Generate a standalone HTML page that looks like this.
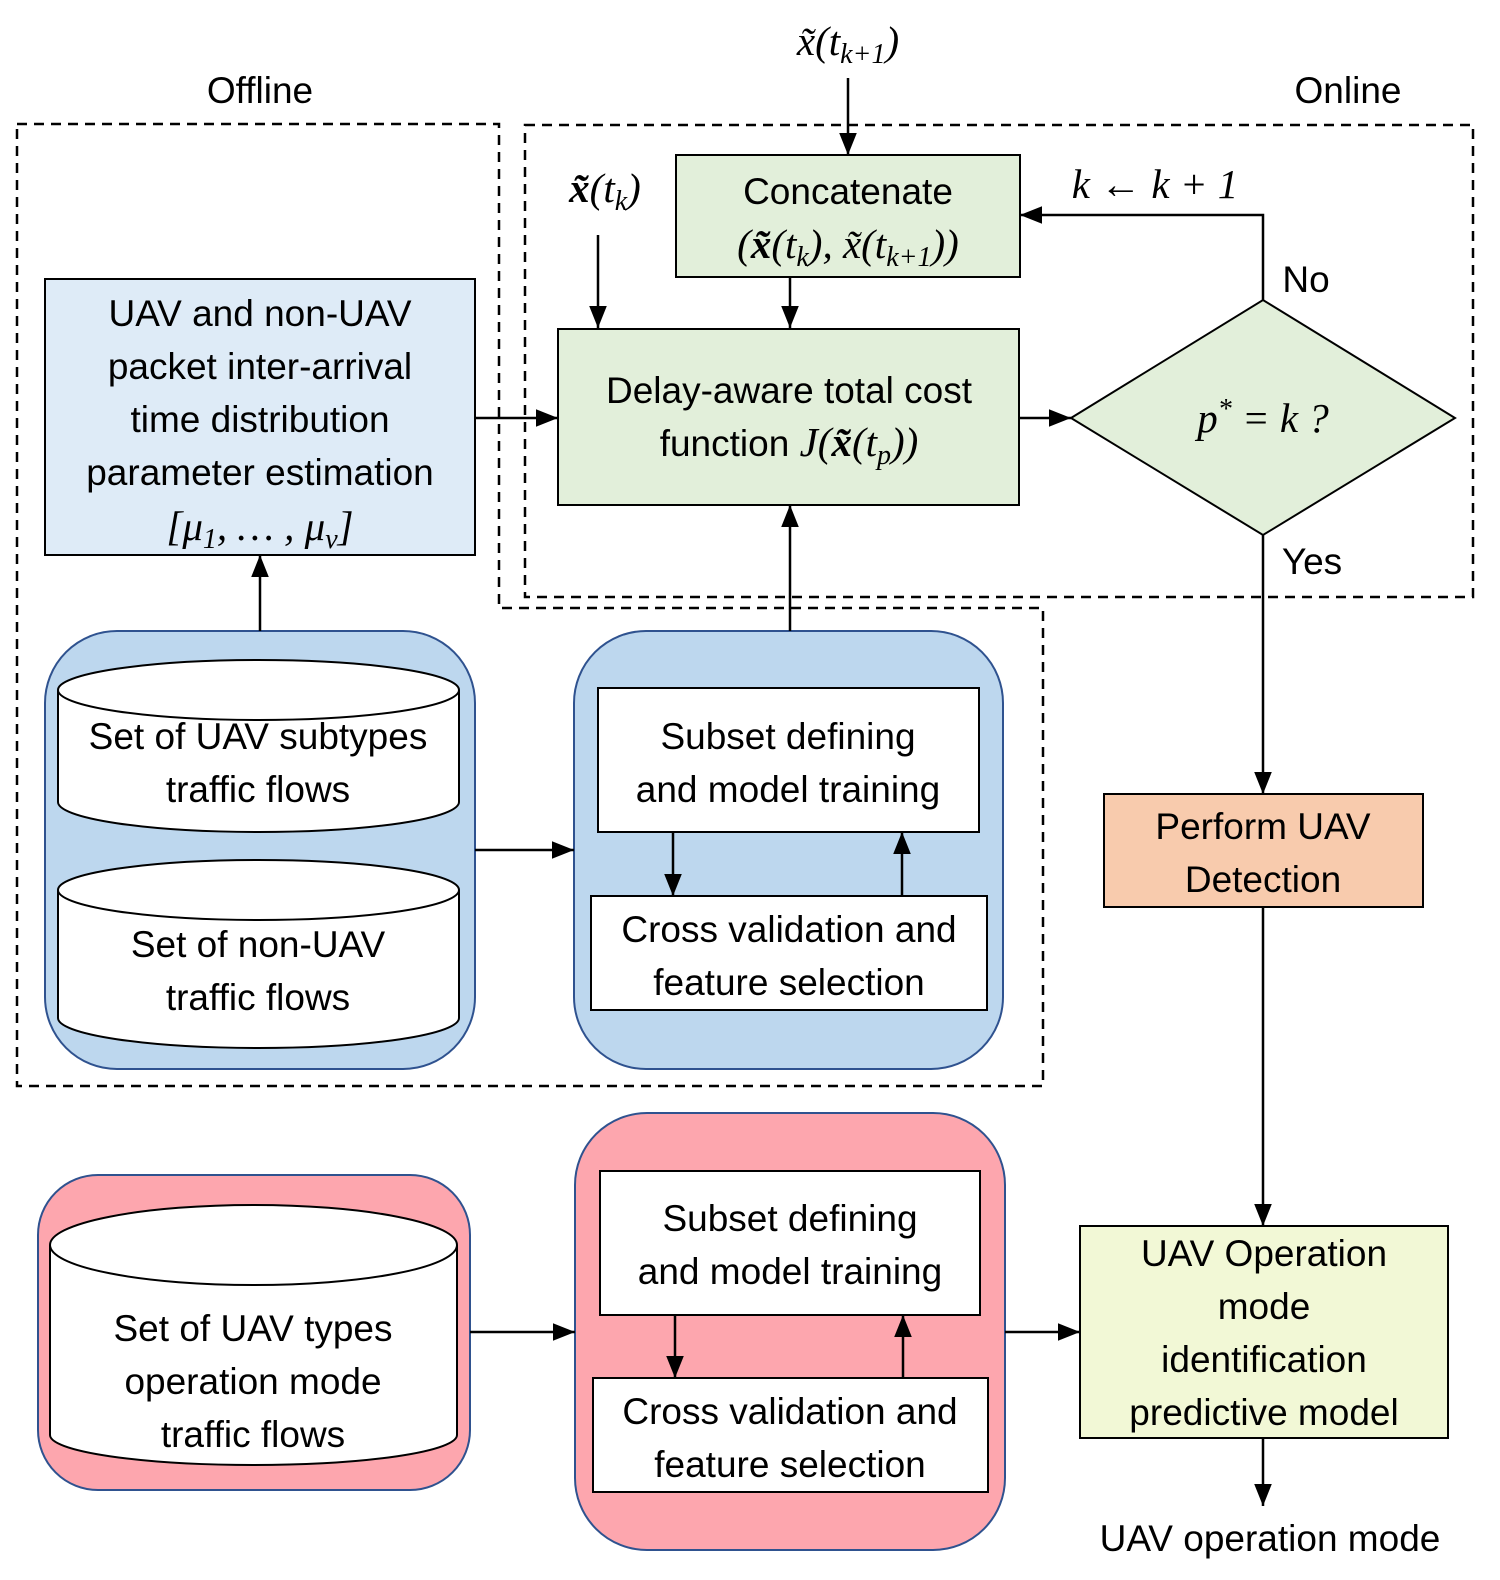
<!DOCTYPE html>
<html><head><meta charset="utf-8"><style>
html,body{margin:0;padding:0;background:#fff;overflow:hidden;width:1500px;height:1580px}
svg{display:block}
text{font-family:"Liberation Sans",sans-serif;font-size:37px;fill:#000;text-anchor:middle}
.m{font-family:"Liberation Serif",serif;font-style:italic;font-size:41px}
.s{font-size:28px}
</style></head><body>
<svg width="1500" height="1580" viewBox="0 0 1500 1580" xmlns="http://www.w3.org/2000/svg">
<defs><marker id="b" viewBox="0 0 10 10" refX="10" refY="5" markerWidth="22" markerHeight="22" markerUnits="userSpaceOnUse" orient="auto"><path d="M0,1L10,5L0,9z" fill="#000"/></marker></defs>

<path d="M17,124H499V608H1043V1086H17Z" fill="none" stroke="#000" stroke-width="2.5" stroke-dasharray="10,7"/>
<rect x="525" y="125" width="948" height="472" fill="none" stroke="#000" stroke-width="2.5" stroke-dasharray="10,7"/>
<text x="260" y="103">Offline</text>
<text x="1348" y="103">Online</text>

<rect x="676" y="155" width="344" height="122" fill="#e2efda" stroke="#000" stroke-width="2"/>
<text x="848" y="204">Concatenate</text>
<text x="848" y="258" class="m">(<tspan font-weight="bold">x&#771;</tspan>(t<tspan class="s" dy="8">k</tspan><tspan dy="-8">), x&#771;(t</tspan><tspan class="s" dy="8">k+1</tspan><tspan dy="-8">))</tspan></text>
<text x="848" y="55" class="m">x&#771;(t<tspan class="s" dy="8">k+1</tspan><tspan dy="-8">)</tspan></text>
<text x="605" y="202" class="m"><tspan font-weight="bold">x&#771;</tspan>(t<tspan class="s" dy="8">k</tspan><tspan dy="-8">)</tspan></text>
<text x="1155" y="198" class="m">k ← k + 1</text>

<rect x="558" y="329" width="461" height="176" fill="#e2efda" stroke="#000" stroke-width="2"/>
<text x="789" y="403">Delay-aware total cost</text>
<text x="789" y="456">function <tspan class="m">J(<tspan font-weight="bold">x&#771;</tspan>(t<tspan class="s" dy="8">p</tspan><tspan dy="-8">))</tspan></tspan></text>

<polygon points="1071,418 1263,300 1455,418 1263,535" fill="#e2efda" stroke="#000" stroke-width="2"/>
<text x="1263" y="432" class="m">p<tspan class="s" dy="-14">*</tspan><tspan dy="14"> = k ?</tspan></text>
<text x="1306" y="292">No</text>
<text x="1312" y="574">Yes</text>

<rect x="45" y="279" width="430" height="276" fill="#deebf7" stroke="#000" stroke-width="2"/>
<text x="260" y="326">UAV and non-UAV</text>
<text x="260" y="379">packet inter-arrival</text>
<text x="260" y="432">time distribution</text>
<text x="260" y="485">parameter estimation</text>
<text x="260" y="540" class="m">[μ<tspan class="s" dy="8">1</tspan><tspan dy="-8">, … , μ</tspan><tspan class="s" dy="8">v</tspan><tspan dy="-8">]</tspan></text>

<rect x="45" y="631" width="430" height="438" rx="72" fill="#bdd7ee" stroke="#2f528f" stroke-width="2"/>
<path d="M58,690V802A200.5,30 0 0 0 459,802V690" fill="#fff" stroke="#000" stroke-width="2"/>
<ellipse cx="258.5" cy="690" rx="200.5" ry="30" fill="#fff" stroke="#000" stroke-width="2"/>
<text x="258" y="749">Set of UAV subtypes</text>
<text x="258" y="802">traffic flows</text>
<path d="M58,890V1018A200.5,30 0 0 0 459,1018V890" fill="#fff" stroke="#000" stroke-width="2"/>
<ellipse cx="258.5" cy="890" rx="200.5" ry="30" fill="#fff" stroke="#000" stroke-width="2"/>
<text x="258" y="957">Set of non-UAV</text>
<text x="258" y="1010">traffic flows</text>

<rect x="574" y="631" width="429" height="438" rx="72" fill="#bdd7ee" stroke="#2f528f" stroke-width="2"/>
<rect x="598" y="688" width="381" height="144" fill="#fff" stroke="#000" stroke-width="2"/>
<text x="788" y="749">Subset defining</text>
<text x="788" y="802">and model training</text>
<rect x="591" y="896" width="396" height="114" fill="#fff" stroke="#000" stroke-width="2"/>
<text x="789" y="942">Cross validation and</text>
<text x="789" y="995">feature selection</text>

<rect x="1104" y="794" width="319" height="113" fill="#f8cbad" stroke="#000" stroke-width="2"/>
<text x="1263" y="839">Perform UAV</text>
<text x="1263" y="892">Detection</text>

<rect x="38" y="1175" width="432" height="315" rx="60" fill="#fda6ae" stroke="#2f528f" stroke-width="2"/>
<path d="M50,1245V1435A203.5,30 0 0 0 457,1435V1245" fill="#fff" stroke="#000" stroke-width="2"/>
<ellipse cx="253.5" cy="1245" rx="203.5" ry="40" fill="#fff" stroke="#000" stroke-width="2"/>
<text x="253" y="1341">Set of UAV types</text>
<text x="253" y="1394">operation mode</text>
<text x="253" y="1447">traffic flows</text>

<rect x="575" y="1113" width="430" height="437" rx="72" fill="#fda6ae" stroke="#2f528f" stroke-width="2"/>
<rect x="600" y="1171" width="380" height="144" fill="#fff" stroke="#000" stroke-width="2"/>
<text x="790" y="1231">Subset defining</text>
<text x="790" y="1284">and model training</text>
<rect x="593" y="1378" width="395" height="114" fill="#fff" stroke="#000" stroke-width="2"/>
<text x="790" y="1424">Cross validation and</text>
<text x="790" y="1477">feature selection</text>

<rect x="1080" y="1226" width="368" height="212" fill="#f2f8d6" stroke="#000" stroke-width="2"/>
<text x="1264" y="1266">UAV Operation</text>
<text x="1264" y="1319">mode</text>
<text x="1264" y="1372">identification</text>
<text x="1264" y="1425">predictive model</text>
<text x="1270" y="1551">UAV operation mode</text>

<g stroke="#000" stroke-width="2.5" fill="none" marker-end="url(#b)">
<path d="M848,78V155"/>
<path d="M598,235V328"/>
<path d="M790,277V328"/>
<path d="M1263,300V215H1020"/>
<path d="M475,418H558"/>
<path d="M1019,418H1071"/>
<path d="M790,631V505"/>
<path d="M260,631V555"/>
<path d="M475,850H574"/>
<path d="M673,832V896"/>
<path d="M902,896V832"/>
<path d="M1263,535V794"/>
<path d="M1263,907V1226"/>
<path d="M470,1332H575"/>
<path d="M1005,1332H1080"/>
<path d="M675,1315V1378"/>
<path d="M903,1378V1315"/>
<path d="M1263,1438V1506"/>
</g>
</svg>
</body></html>
